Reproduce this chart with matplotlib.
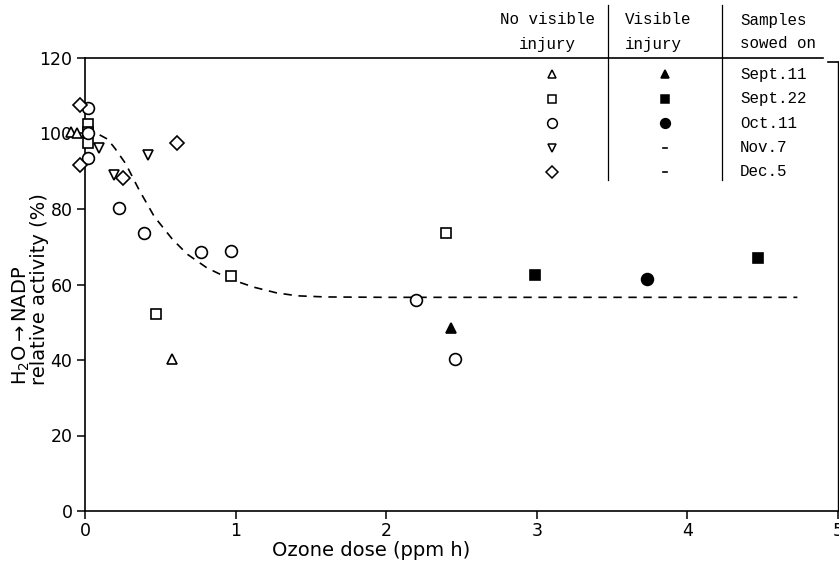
import matplotlib
matplotlib.use("Agg")
import matplotlib.pyplot as plt
from matplotlib.lines import Line2D

# ---- data ----
# open symbols: no visible injury
tri_open_x = [-0.09, -0.05, 0.58]
tri_open_y = [100.3, 100.0, 40.3]
sq_open_x = [0.02, 0.02, 0.02, 0.47, 0.97, 2.40]
sq_open_y = [102.5, 100.3, 97.5, 52.2, 62.2, 73.6]
circ_open_x = [0.02, 0.02, 0.02, 0.225, 0.39, 0.77, 0.97, 2.20, 2.46]
circ_open_y = [106.8, 100.2, 93.5, 80.3, 73.6, 68.6, 68.9, 55.9, 40.3]
tri_down_x = [0.09, 0.19, 0.42]
tri_down_y = [96.2, 89.0, 94.3]
diam_x = [-0.03, -0.03, 0.25, 0.61]
diam_y = [107.5, 91.7, 88.2, 97.5]
# filled symbols: visible injury
tri_fill_x = [2.43]
tri_fill_y = [48.5]
sq_fill_x = [2.99, 4.47]
sq_fill_y = [62.5, 67.1]
circ_fill_x = [3.73]
circ_fill_y = [61.4]
# dashed fitted curve (read points)
curve_x = [0.0, 0.08, 0.15, 0.2, 0.27, 0.36, 0.46, 0.58, 0.68, 0.81, 0.96,
           1.12, 1.27, 1.41, 1.6, 2.0, 3.0, 4.0, 4.73]
curve_y = [100.0, 100.0, 98.5, 96.0, 92.0, 85.0, 78.0, 72.0, 68.0, 64.4, 61.5,
           59.3, 57.8, 57.0, 56.7, 56.6, 56.6, 56.6, 56.6]

xticks = [0, 1, 2, 3, 4, 5]
yticks = [0, 20, 40, 60, 80, 100, 120]

header_cols = ["No visible\ninjury", "Visible\ninjury", "Samples\nsowed on"]
dates = ["Sept.11", "Sept.22", "Oct.11", "Nov.7", "Dec.5"]
open_markers = ["^", "s", "o", "v", "D"]
filled_markers = ["^", "s", "o", "-", "-"]

sans = "DejaVu Sans"
mono = "Liberation Mono"
tick_fs = 12.5
lab_fs = 14

W, H = 839, 563
fig = plt.figure(figsize=(W / 100, H / 100), dpi=100)
ax = fig.add_axes([85 / W, (H - 511) / H, (838 - 85) / W, (511 - 58) / H])
ax.set_xlim(0, 5)
ax.set_ylim(0, 120)

lw = 1.2
ax.plot(curve_x, curve_y, ls=(0, (5, 4)), color="black", lw=1.2, zorder=2)

common = dict(ls="none", color="black", mew=lw, clip_on=False, zorder=3)
ax.plot(tri_open_x, tri_open_y, marker="^", ms=7, mfc="white", **common)
ax.plot(sq_open_x, sq_open_y, marker="s", ms=6.5, mfc="white", **common)
ax.plot(circ_open_x, circ_open_y, marker="o", ms=8.5, mfc="white", **common)
ax.plot(tri_down_x, tri_down_y, marker="v", ms=7, mfc="white", **common)
ax.plot(diam_x, diam_y, marker="D", ms=7, mfc="white", **common)
ax.plot(tri_fill_x, tri_fill_y, marker="^", ms=7, mfc="black", **common)
ax.plot(sq_fill_x, sq_fill_y, marker="s", ms=6.5, mfc="black", **common)
ax.plot(circ_fill_x, circ_fill_y, marker="o", ms=8.5, mfc="black", **common)

# spines
for s in ["top", "right"]:
    ax.spines[s].set_visible(False)
for s in ["left", "bottom"]:
    ax.spines[s].set_linewidth(1.2)
# top line (axis + table header rule)
fig.add_artist(Line2D([85 / W, 823 / W], [(H - 58) / H] * 2, color="black", lw=1.2))
fig.add_artist(Line2D([828 / W, 839 / W], [(H - 62) / H] * 2, color="black", lw=1.2))
# right spine
fig.add_artist(Line2D([838 / W] * 2, [(H - 511) / H, (H - 62) / H], color="black", lw=1.0))

ax.set_xticks(xticks)
ax.set_yticks(yticks)
ax.set_xticklabels([str(v) for v in xticks], fontsize=tick_fs, family=sans)
ax.set_yticklabels([str(v) for v in yticks], fontsize=tick_fs, family=sans)
ax.tick_params(direction="out", length=6, width=1.1, pad=3)
ax.tick_params(axis="x", pad=2)


def fx(px):
    return px / W


def fy(py):
    return (H - py) / H


fig.text(fx(371), fy(551), "Ozone dose (ppm h)", fontsize=lab_fs, family=sans,
         ha="center", va="center")
fig.text(fx(11), fy(385), "H$_2$O$\\rightarrow$NADP\nrelative activity (%)",
         fontsize=lab_fs, family=sans, rotation=90, ha="left", va="bottom",
         multialignment="left", linespacing=0.85)

# ---- table legend ----
for xs in [608, 722]:
    fig.add_artist(Line2D([fx(xs)] * 2, [fy(5), fy(180)], color="black", lw=0.9))

tfs = 11.4
fig.text(fx(547), fy(20), "No visible", fontsize=tfs, family=mono, ha="center", va="center")
fig.text(fx(547), fy(44), "injury", fontsize=tfs, family=mono, ha="center", va="center")
fig.text(fx(625), fy(20), "Visible", fontsize=tfs, family=mono, ha="left", va="center")
fig.text(fx(625), fy(44), "injury", fontsize=tfs, family=mono, ha="left", va="center")
fig.text(fx(740), fy(20), "Samples", fontsize=tfs, family=mono, ha="left", va="center")
fig.text(fx(740), fy(44), "sowed on", fontsize=tfs, family=mono, ha="left", va="center")

rows_y = [74, 99, 123, 148, 172]
for ry, d, om, fm in zip(rows_y, dates, open_markers, filled_markers):
    fig.add_artist(Line2D([fx(552)], [fy(ry)], marker=om, ms=6 if om != "o" else 7,
                          mfc="white", mec="black", mew=1.1, ls="none"))
    if fm == "-":
        fig.add_artist(Line2D([fx(663), fx(667)], [fy(ry)] * 2, color="black", lw=1.2))
    else:
        fig.add_artist(Line2D([fx(665)], [fy(ry)], marker=fm, ms=6 if fm != "o" else 7,
                              mfc="black", mec="black", mew=1.1, ls="none"))
    fig.text(fx(740), fy(ry), d, fontsize=tfs, family=mono, ha="left", va="center")

fig.savefig("out.png", dpi=100)
